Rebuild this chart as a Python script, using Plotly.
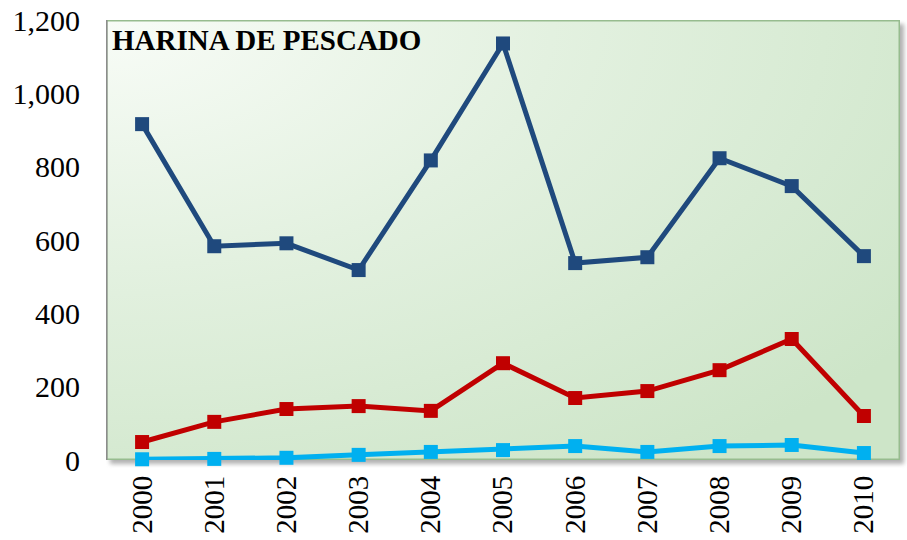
import base64
import plotly.graph_objects as go

years = ["2000", "2001", "2002", "2003", "2004", "2005", "2006", "2007", "2008", "2009", "2010"]
serie_azul = [916, 583, 591, 518, 817, 1136, 537, 553, 823, 747, 556]
serie_roja = [49, 104, 139, 147, 134, 264, 169, 188, 245, 330, 120]
serie_celeste = [2, 3, 6, 14, 22, 27, 38, 22, 38, 41, 19]
y_ticks = [0, 200, 400, 600, 800, 1000, 1200]
y_labels = ["0", "200", "400", "600", "800", "1,000", "1,200"]
title_text = "HARINA DE PESCADO"

W, H = 907, 540
L, T, B = 106, 20, 80
R = W - 900
pw, ph = W - L - R, H - T - B
pad = 10

svg = f'''<svg xmlns="http://www.w3.org/2000/svg" width="{pw+pad}" height="{ph+pad}" viewBox="0 0 {pw+pad} {ph+pad}">
<defs>
<radialGradient id="g" cx="0" cy="0" r="1.25" gradientUnits="objectBoundingBox">
<stop offset="0" stop-color="#F8FCF7"/>
<stop offset="0.45" stop-color="#E3F1E0"/>
<stop offset="1" stop-color="#CDE5C8"/>
</radialGradient>
<filter id="s" x="-5%" y="-5%" width="110%" height="110%"><feGaussianBlur stdDeviation="2"/></filter>
</defs>
<rect x="4" y="4" width="{pw}" height="{ph}" fill="#7f7f7f" opacity="0.6" filter="url(#s)"/>
<rect x="0.75" y="0.75" width="{pw-1.5}" height="{ph-1.5}" fill="url(#g)" stroke="#97BC8F" stroke-width="1.5"/>
<line x1="0.75" y1="0" x2="0.75" y2="{ph}" stroke="#8C8C8C" stroke-width="1.5"/>
</svg>'''
src = "data:image/svg+xml;base64," + base64.b64encode(svg.encode()).decode()

fig = go.Figure()
for vals, col in [(serie_azul, "#1F497D"), (serie_roja, "#C00000"), (serie_celeste, "#00B0F0")]:
    fig.add_trace(go.Scatter(
        x=years, y=vals, mode="lines+markers",
        line=dict(color=col, width=5),
        marker=dict(symbol="square", size=14, color=col),
        cliponaxis=False, showlegend=False, hoverinfo="x+y"))

fig.add_layout_image(dict(
    source=src, xref="paper", yref="paper", x=0, y=1,
    sizex=(pw + pad) / pw, sizey=(ph + pad) / ph,
    xanchor="left", yanchor="top", sizing="stretch", layer="below"))

fig.add_annotation(text="<b>" + title_text + "</b>", xref="paper", yref="paper",
                   x=4 / pw, y=1 - 2 / ph, xanchor="left", yanchor="top", showarrow=False,
                   font=dict(family="Liberation Serif", size=29, color="#000000"))

fig.update_layout(
    width=W, height=H,
    margin=dict(l=L, r=R, t=T, b=B, autoexpand=False),
    paper_bgcolor="white", plot_bgcolor="rgba(0,0,0,0)",
    font=dict(family="Liberation Serif", size=29, color="#000000"),
    xaxis=dict(type="category", range=[-0.5, 10.5], tickangle=-90, showgrid=False,
               showline=False, ticks="", zeroline=False, ticklabelstandoff=9,
               tickfont=dict(size=29)),
    yaxis=dict(range=[0, 1200], tickvals=y_ticks, ticktext=y_labels, showgrid=False,
               showline=False, ticks="", zeroline=False, ticklabelstandoff=25,
               ticklabeloverflow="allow", tickfont=dict(size=30)),
)

fig.write_html("out.html", config={"displayModeBar": False},
               post_script="document.body.style.margin='0';document.body.style.overflow='hidden';")
